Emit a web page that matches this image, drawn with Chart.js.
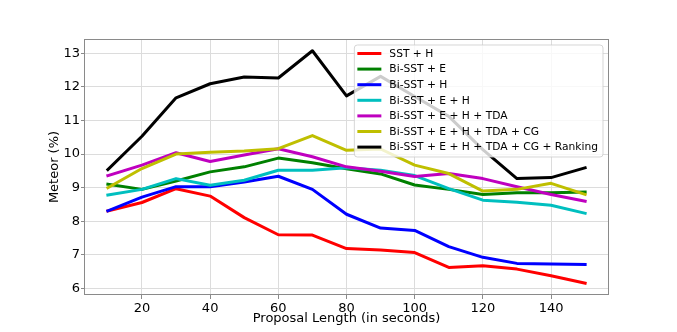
<!DOCTYPE html>
<html>
<head>
<meta charset="utf-8">
<title>Meteor vs Proposal Length</title>
<script src="https://cdn.jsdelivr.net/npm/chart.js@4.4.1/dist/chart.umd.min.js"></script>
<style>
  html, body { margin: 0; padding: 0; background: #fff; }
  #wrap { width: 677px; height: 332px; }
</style>
</head>
<body>
<div id="wrap"><canvas id="meteorChart" width="677" height="332"></canvas></div>
<script>
/* ==================== chart data ==================== */

// X values: proposal length in seconds
const proposalLengths = [10, 20, 30, 40, 50, 60, 70, 80, 90, 100, 110, 120, 130, 140, 150];

// Meteor (%) for each model variant
const sstH          = [8.31, 8.56, 8.97, 8.75, 8.11, 7.60, 7.59, 7.19, 7.15, 7.07, 6.63, 6.68, 6.58, 6.38, 6.16];
const biSstE        = [9.10, 8.95, 9.20, 9.47, 9.62, 9.88, 9.74, 9.56, 9.41, 9.08, 8.95, 8.80, 8.85, 8.85, 8.87];
const biSstH        = [8.31, 8.72, 9.03, 9.03, 9.17, 9.34, 8.95, 8.21, 7.80, 7.73, 7.25, 6.93, 6.75, 6.73, 6.72];
const biSstEH       = [8.78, 8.95, 9.27, 9.07, 9.22, 9.52, 9.52, 9.59, 9.52, 9.36, 8.97, 8.63, 8.57, 8.48, 8.24];
const biSstEHTda    = [9.36, 9.67, 10.04, 9.78, 9.97, 10.16, 9.92, 9.62, 9.49, 9.33, 9.42, 9.27, 9.03, 8.80, 8.60];
const biSstEHTdaCg  = [9.00, 9.57, 10.00, 10.05, 10.09, 10.16, 10.55, 10.11, 10.15, 9.67, 9.42, 8.90, 8.95, 9.13, 8.80];
const biSstEHTdaCgR = [9.54, 10.53, 11.67, 12.09, 12.29, 12.26, 13.07, 11.73, 12.31, 11.71, 11.12, 10.13, 9.27, 9.30, 9.59];

// Legend labels (same order as the series)
const seriesLabels = [
    'SST + H',
    'Bi-SST + E',
    'Bi-SST + H',
    'Bi-SST + E + H',
    'Bi-SST + E + H + TDA',
    'Bi-SST + E + H + TDA + CG',
    'Bi-SST + E + H + TDA + CG + Ranking'
];
const seriesValues = [sstH, biSstE, biSstH, biSstEH, biSstEHTda, biSstEHTdaCg, biSstEHTdaCgR];

// Tick labels
const xTicks = [20, 40, 60, 80, 100, 120, 140];
const yTicks = [6, 7, 8, 9, 10, 11, 12, 13];

/* ==================== styles ==================== */
const seriesColors = ['#ff0000', '#008000', '#0000ff', '#00bfbf', '#bf00bf', '#bfbf00', '#000000'];
const GRID = '#dcdcdc';
const SPINE = '#8a8a8a';

Chart.defaults.font.family = '"DejaVu Sans", sans-serif';
Chart.defaults.font.size = 13;
Chart.defaults.color = '#000';

/* ==================== frame + in-plot legend ==================== */
const frameAndLegend = {
    id: 'frameAndLegend',
    afterDatasetsDraw(chart) {
        const { ctx, chartArea: a } = chart;
        ctx.save();

        // four spines
        ctx.strokeStyle = SPINE;
        ctx.lineWidth = 1;
        ctx.strokeRect(a.left + 0.5, a.top + 0.5, a.right - a.left - 1, a.bottom - a.top - 1);

        // legend box, upper right inside the axes
        const sets = chart.data.datasets;
        ctx.font = '10.7px "DejaVu Sans"';
        const textW = Math.max(...sets.map(d => ctx.measureText(d.label).width));
        const rowH = 15.6;
        const boxW = 3 + 24 + 8 + textW + 5;
        const boxH = 112;
        const bx = a.right - 6 - boxW;
        const by = a.top + 6;
        const r = 3;

        ctx.beginPath();
        ctx.moveTo(bx + r, by);
        ctx.lineTo(bx + boxW - r, by);
        ctx.arcTo(bx + boxW, by, bx + boxW, by + r, r);
        ctx.lineTo(bx + boxW, by + boxH - r);
        ctx.arcTo(bx + boxW, by + boxH, bx + boxW - r, by + boxH, r);
        ctx.lineTo(bx + r, by + boxH);
        ctx.arcTo(bx, by + boxH, bx, by + boxH - r, r);
        ctx.lineTo(bx, by + r);
        ctx.arcTo(bx, by, bx + r, by, r);
        ctx.closePath();
        ctx.fillStyle = 'rgba(255,255,255,0.8)';
        ctx.fill();
        ctx.strokeStyle = 'rgba(204,204,204,0.8)';
        ctx.stroke();

        ctx.textBaseline = 'middle';
        ctx.textAlign = 'left';
        sets.forEach((d, i) => {
            const cy = by + 8.5 + i * rowH;
            ctx.beginPath();
            ctx.moveTo(bx + 3, cy);
            ctx.lineTo(bx + 27, cy);
            ctx.strokeStyle = d.borderColor;
            ctx.lineWidth = 3;
            ctx.stroke();
            ctx.fillStyle = '#000';
            ctx.fillText(d.label, bx + 35, cy + 0.5);
        });
        ctx.restore();
    }
};

/* ==================== chart ==================== */
const ctx = document.getElementById('meteorChart');

new Chart(ctx, {
    type: 'line',
    data: {
        datasets: seriesValues.map((vals, i) => ({
            label: seriesLabels[i],
            data: proposalLengths.map((x, j) => ({ x: x, y: vals[j] })),
            borderColor: seriesColors[i],
            backgroundColor: seriesColors[i],
            borderWidth: 3,
            borderJoinStyle: 'round',
            borderCapStyle: 'square',
            pointRadius: 0,
            tension: 0,
            fill: false,
            order: seriesValues.length - i   /* later series on top, like matplotlib */
        }))
    },
    options: {
        responsive: false,
        animation: false,
        layout: { padding: { left: 0, right: 68, top: 39, bottom: 0 } },
        plugins: {
            legend: { display: false },
            tooltip: { enabled: false }
        },
        scales: {
            x: {
                type: 'linear',
                min: 3,
                max: 157,
                afterBuildTicks: s => { s.ticks = xTicks.map(v => ({ value: v })); },
                afterFit: s => { s.height = 37; },
                grid: { color: GRID, tickColor: SPINE, tickLength: 4, drawTicks: true },
                border: { display: false },
                ticks: { padding: 2, maxRotation: 0, font: { size: 13 } },
                title: {
                    display: true,
                    text: 'Proposal Length (in seconds)',
                    font: { size: 13 },
                    padding: { top: 0, bottom: 6 }
                }
            },
            y: {
                min: 5.81,
                max: 13.42,
                afterBuildTicks: s => { s.ticks = yTicks.map(v => ({ value: v })); },
                afterFit: s => { s.width = 84; },
                grid: { color: GRID, tickColor: SPINE, tickLength: 3, drawTicks: true },
                border: { display: false },
                ticks: { padding: 1, font: { size: 13 } },
                title: {
                    display: true,
                    text: 'Meteor (%)',
                    font: { size: 13 },
                    padding: { top: 47, bottom: 0 }
                }
            }
        }
    },
    plugins: [frameAndLegend]
});
</script>
</body>
</html>
